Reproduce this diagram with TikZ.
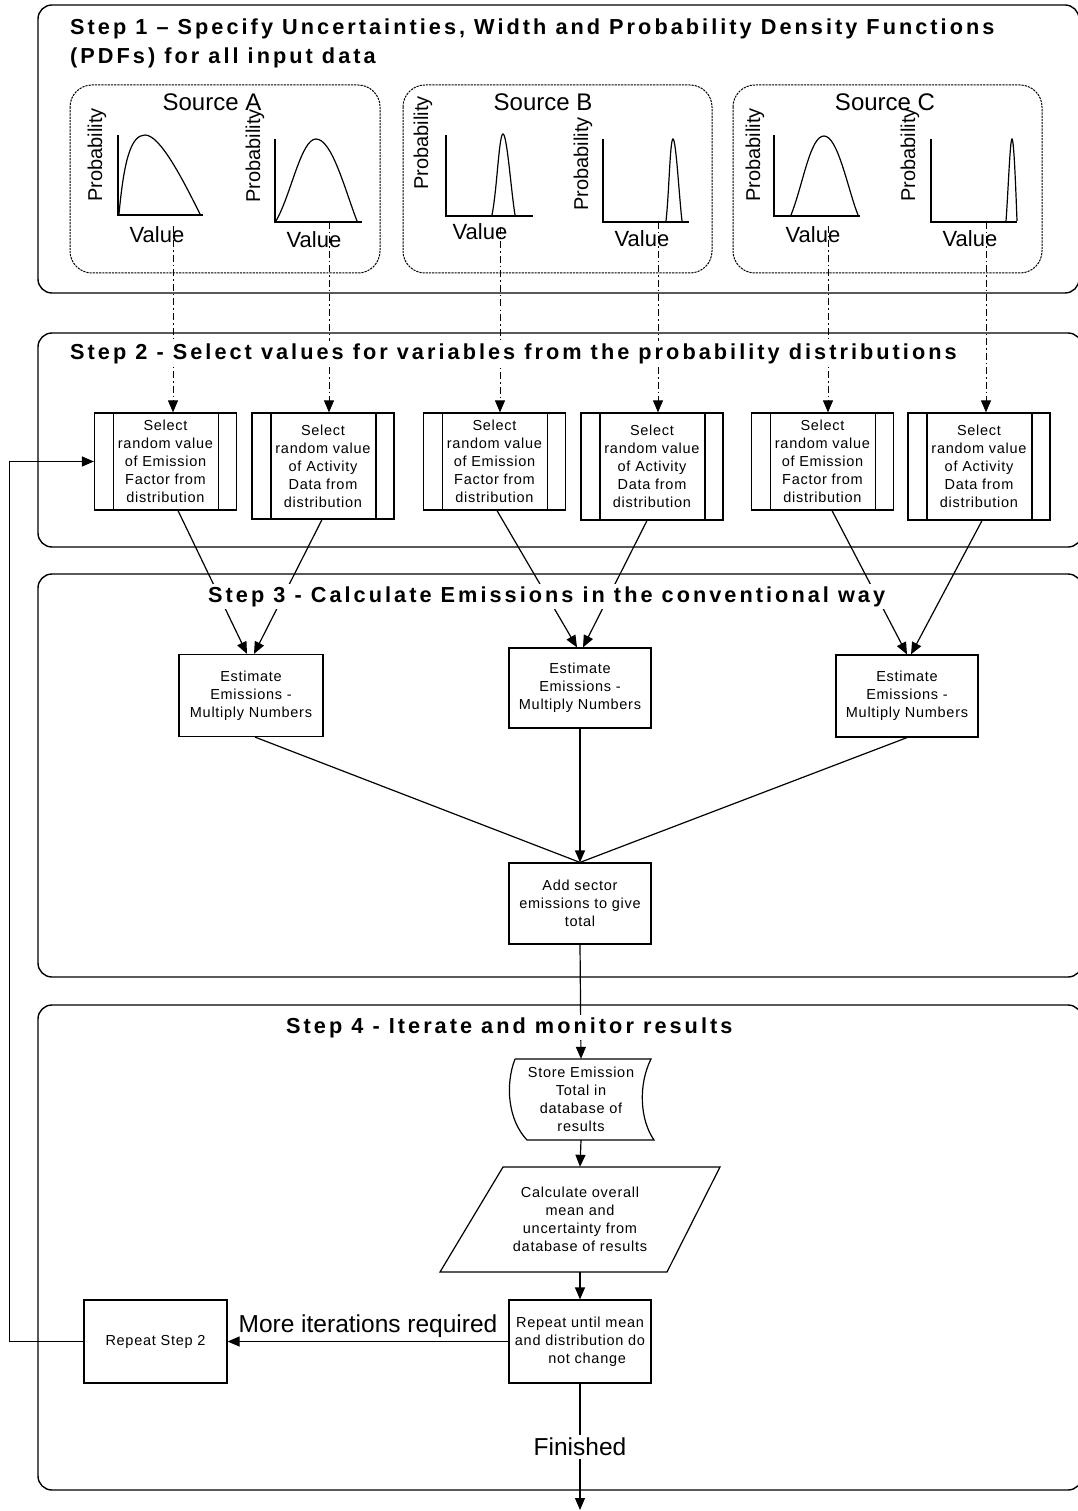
\documentclass[tikz,border=0pt]{standalone}
\usepackage{fontspec}
\setmainfont{Liberation Sans}
\newfontfamily\ttlfont[LetterSpace=14]{Liberation Sans}
\newfontfamily\boxfont[LetterSpace=5]{Liberation Sans}
\usetikzlibrary{arrows.meta,calc}
\begin{document}
\begin{tikzpicture}[x=1pt,y=-1pt,
  every node/.style={inner sep=0pt},
  stepbox/.style={draw, line width=1.4pt, rounded corners=14pt},
  srcbox/.style={draw, line width=1pt, dash pattern=on 2.2pt off 1pt, rounded corners=22pt},
  ttl/.style={font=\ttlfont\bfseries\fontsize{21.7}{30}\selectfont, fill=white, inner sep=2pt},
  src/.style={font=\fontsize{24}{28}\selectfont},
  lab/.style={font=\fontsize{22}{26}\selectfont},
  prob/.style={font=\fontsize{20}{24}\selectfont, rotate=90},
  axis/.style={line width=1.3pt},
  curve/.style={line width=1.2pt},
  boxtext/.style={align=center, font=\boxfont\fontsize{14.5}{18}\selectfont},
  procbox/.style={boxtext, draw, line width=1.2pt, minimum width=142pt,
    path picture={
      \draw[line width=1.2pt] ([xshift=19pt]path picture bounding box.north west) -- ([xshift=19pt]path picture bounding box.south west);
      \draw[line width=1.2pt] ([xshift=-18pt]path picture bounding box.north east) -- ([xshift=-18pt]path picture bounding box.south east);}},
  plainbox/.style={boxtext, draw, line width=1.2pt, minimum width=142pt},
  conn/.style={line width=1.2pt},
  arr/.style={conn, -{Triangle[length=12pt,width=10pt]}},
  dd/.style={line width=1pt, dash pattern=on 7pt off 3pt on 1.5pt off 3pt, -{Triangle[length=12pt,width=10pt]}},
  lbl/.style={font=\fontsize{24.5}{28}\selectfont}
]
\useasboundingbox (0,0) rectangle (1077,1511);

% step boxes
\draw[stepbox] (38,5) rectangle (1079,293);
\draw[stepbox] (38,333) rectangle (1082,547);
\draw[stepbox] (38,574) rectangle (1082,977);
\draw[stepbox] (38,1005) rectangle (1082,1490);

% source boxes
\draw[srcbox] (70,85) rectangle (380,273);
\draw[srcbox] (403,85) rectangle (712,273);
\draw[srcbox] (733,85) rectangle (1042,273);

% plots: axes
\draw[axis] (118,135) -- (118,215) -- (203,215);
\draw[axis] (275,139) -- (275,222) -- (362,222);
\draw[axis] (446,135) -- (446,216) -- (533,216);
\draw[axis] (603,139) -- (603,222) -- (689,222);
\draw[axis] (774,135) -- (774,216) -- (860,216);
\draw[axis] (931,139) -- (931,222) -- (1017,222);
% curves
\draw[curve] (119,214) .. controls (124,160) and (131,135) .. (145,135) .. controls (160,135) and (182,178) .. (200,214);
\draw[curve] (276,221) .. controls (291,195) and (301,139) .. (316,139) .. controls (332,139) and (345,190) .. (357,221);
\draw[curve] (492,215) .. controls (497,190) and (499,134) .. (503,134) .. controls (507,134) and (511,190) .. (515,215);
\draw[curve] (666,221) .. controls (669,195) and (670,139) .. (673,139) .. controls (676,139) and (679,195) .. (682,221);
\draw[curve] (791,215) .. controls (803,185) and (810,136) .. (824,136) .. controls (838,136) and (848,190) .. (858,215);
\draw[curve] (1006,221) .. controls (1008,195) and (1010,139) .. (1012,139) .. controls (1014,139) and (1016,195) .. (1017,221);

% step 2 boxes
\node[procbox, minimum height=97pt] (a1) at (165.5,461.5) {Select\\random value\\of Emission\\Factor from\\distribution};
\node[procbox, minimum height=106pt] (a2) at (323,466) {Select\\random value\\of Activity\\Data from\\distribution};
\node[procbox, minimum height=97pt] (b1) at (494.5,461.5) {Select\\random value\\of Emission\\Factor from\\distribution};
\node[procbox, minimum height=107pt] (b2) at (652,466.5) {Select\\random value\\of Activity\\Data from\\distribution};
\node[procbox, minimum height=97pt] (c1) at (822.5,461.5) {Select\\random value\\of Emission\\Factor from\\distribution};
\node[procbox, minimum height=107pt] (c2) at (979,466.5) {Select\\random value\\of Activity\\Data from\\distribution};

% dash-dot connectors
\coordinate (s1) at (173,226);
\coordinate (s2) at (329,222);
\coordinate (s3) at (500,227);
\coordinate (s4) at (658,222);
\coordinate (s5) at (828,226);
\coordinate (s6) at (986,222);
\draw[dd] (s1) -- (s1 |- a1.north);
\draw[dd] (s2) -- (s2 |- a2.north);
\draw[dd] (s3) -- (s3 |- b1.north);
\draw[dd] (s4) -- (s4 |- b2.north);
\draw[dd] (s5) -- (s5 |- c1.north);
\draw[dd] (s6) -- (s6 |- c2.north);

% step 3 boxes
\node[plainbox, minimum width=144pt, minimum height=82pt] (ea) at (251,695.5) {Estimate\\Emissions -\\Multiply Numbers};
\node[plainbox, minimum height=80pt] (eb) at (580,688) {Estimate\\Emissions -\\Multiply Numbers};
\node[plainbox, minimum height=82pt] (ec) at (907,696) {Estimate\\Emissions -\\Multiply Numbers};
\node[plainbox, minimum height=81pt] (as) at (580,903.5) {Add sector\\emissions to give\\total};

\draw[arr] ([xshift=12.5pt]a1.south) -- ([xshift=-4pt]ea.north);
\draw[arr] ([xshift=-1pt]a2.south) -- ([xshift=3pt]ea.north);
\draw[arr] ([xshift=2.5pt]b1.south) -- ([xshift=-3pt]eb.north);
\draw[arr] ([xshift=-5pt]b2.south) -- ([xshift=3pt]eb.north);
\draw[arr] ([xshift=9.5pt]c1.south) -- ([xshift=0pt]ec.north);
\draw[arr] ([xshift=3pt]c2.south) -- ([xshift=4pt]ec.north);

\draw[conn] ([xshift=4pt]ea.south) -- (as.north);
\draw[conn] (ec.south) -- (as.north);
\draw[arr] (eb.south) -- (as.north);

% step 4 shapes and nodes
\draw[line width=1.2pt] (515,1059) -- (651,1059) .. controls (638,1085) and (640,1120) .. (654,1140) -- (527,1140) .. controls (508,1120) and (505,1085) .. (515,1059);
\node[boxtext, minimum width=140pt, minimum height=81pt] (st) at (581,1099.5) {Store Emission\\Total in\\database of\\results};
\draw[line width=1.2pt] (503,1167) -- (720,1167) -- (667,1272) -- (440,1272) -- cycle;
\node[boxtext, minimum width=200pt, minimum height=105pt] (cl) at (580,1219.5) {Calculate overall\\mean and\\uncertainty from\\database of results};
\node[plainbox, minimum height=83pt] (ru) at (580,1341.5) {Repeat until mean\\and distribution do\\\ \ \ not change};
\node[plainbox, minimum width=143pt, minimum height=83pt] (rs) at (155.5,1341.5) {Repeat Step 2};

\draw[arr] (as.south) -- (st.north);
\draw[arr] (st.south) -- (cl.north);
\draw[arr] (cl.south) -- (ru.north);
\draw[arr] (ru.west) -- node[lbl, midway, above=3pt] (mi) {More iterations required} (rs.east);
\draw[arr] (rs.west) -- ++(-74,0) |- (a1.west);
\coordinate (fin) at (580,1510);
\draw[arr] (ru.south) -- node[lbl, midway, fill=white, inner sep=3pt] (fn) {Finished} (fin);

% titles (white backing hides connectors behind them)
\node[ttl, anchor=base west] (t1a) at (68,35) {Step 1 – Specify Uncertainties, Width and Probability Density Functions};
\node[ttl, anchor=base west, fill=none] (t1b) at (68,64) {(PDFs) for all input data};
\node[ttl, anchor=base west] (t2) at (68,359) {Step 2 - Select values for variables from the probability distributions};
\node[ttl, anchor=base west] (t3) at (206,602) {Step 3 - Calculate Emissions in the conventional way};
\node[ttl, anchor=base west] (t4) at (284,1033) {Step 4 - Iterate and monitor results};

% source and plot labels
\node[src] (sa) at (212,102) {Source A};
\node[src] (sb) at (543,102) {Source B};
\node[src] (sc) at (885,102) {Source C};
\node[prob] (pa1) at (97,155) {Probability};
\node[prob] (pa2) at (255,156) {Probability};
\node[prob] (pb1) at (423,143) {Probability};
\node[prob] (pb2) at (583,164) {Probability};
\node[prob] (pc1) at (755,155) {Probability};
\node[prob] (pc2) at (910,155) {Probability};
\node[lab] (va1) at (157,235) {Value};
\node[lab] (va2) at (314,240) {Value};
\node[lab] (vb1) at (480,232) {Value};
\node[lab] (vb2) at (642,239) {Value};
\node[lab] (vc1) at (813,235) {Value};
\node[lab] (vc2) at (970,239) {Value};
\end{tikzpicture}
\end{document}
